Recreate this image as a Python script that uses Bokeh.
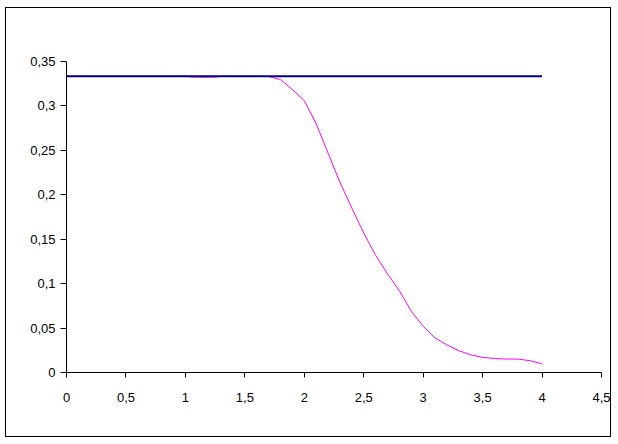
from bokeh.plotting import figure
from bokeh.models import FixedTicker, Range1d
from bokeh.embed import file_html
from bokeh.resources import INLINE

# Data
blue_x = [0, 4]
blue_y = [0.3333, 0.3333]

mag_x = [0.0, 1.0, 1.07, 1.24, 1.3, 1.6, 1.7, 1.8, 1.9, 2.0, 2.1, 2.2, 2.3, 2.4, 2.5,
         2.6, 2.7, 2.8, 2.9, 3.0, 3.1, 3.2, 3.3, 3.4, 3.5, 3.6, 3.7, 3.8, 3.9, 4.0]
mag_y = [0.3333, 0.3333, 0.3324, 0.3324, 0.3333, 0.3333, 0.3331, 0.3297, 0.3185, 0.306,
         0.280, 0.247, 0.214, 0.185, 0.157, 0.132, 0.111, 0.092, 0.069, 0.052, 0.039,
         0.031, 0.0245, 0.020, 0.017, 0.0157, 0.0152, 0.015, 0.0133, 0.0098]

x_ticks = [0, 0.5, 1, 1.5, 2, 2.5, 3, 3.5, 4, 4.5]
x_labels = ["0", "0,5", "1", "1,5", "2", "2,5", "3", "3,5", "4", "4,5"]
y_ticks = [0, 0.05, 0.1, 0.15, 0.2, 0.25, 0.3, 0.35]
y_labels = ["0", "0,05", "0,1", "0,15", "0,2", "0,25", "0,3", "0,35"]

p = figure(width=606, height=430, output_backend="svg", toolbar_location=None,
           x_range=Range1d(0, 4.5), y_range=Range1d(0, 0.35),
           min_border_left=60, min_border_right=11, min_border_top=53, min_border_bottom=66,
           styles={"border": "1px solid black", "box-sizing": "border-box"},
           margin=(7, 0, 0, 5))
p.outline_line_color = None
p.grid.visible = False

p.line(mag_x, mag_y, line_color="#FF00FF", line_width=1)
p.line(blue_x, blue_y, line_color="#000080", line_width=2)

for ax in (p.xaxis[0], p.yaxis[0]):
    ax.axis_line_color = "black"
    ax.axis_line_width = 1
    ax.major_tick_line_color = "black"
    ax.major_tick_in = 0
    ax.minor_tick_line_color = None
    ax.major_label_text_font = "Liberation Sans"
    ax.major_label_text_font_size = "13px"
    ax.major_label_text_color = "black"

p.xaxis[0].major_tick_out = 5
p.yaxis[0].major_tick_out = 6
p.xaxis[0].ticker = FixedTicker(ticks=x_ticks)
p.xaxis[0].major_label_overrides = {t: l for t, l in zip(x_ticks, x_labels)}
p.xaxis[0].major_label_standoff = 15
p.yaxis[0].ticker = FixedTicker(ticks=y_ticks)
p.yaxis[0].major_label_overrides = {t: l for t, l in zip(y_ticks, y_labels)}
p.yaxis[0].major_label_standoff = 5

open("out.html", "w").write(file_html(p, INLINE))
